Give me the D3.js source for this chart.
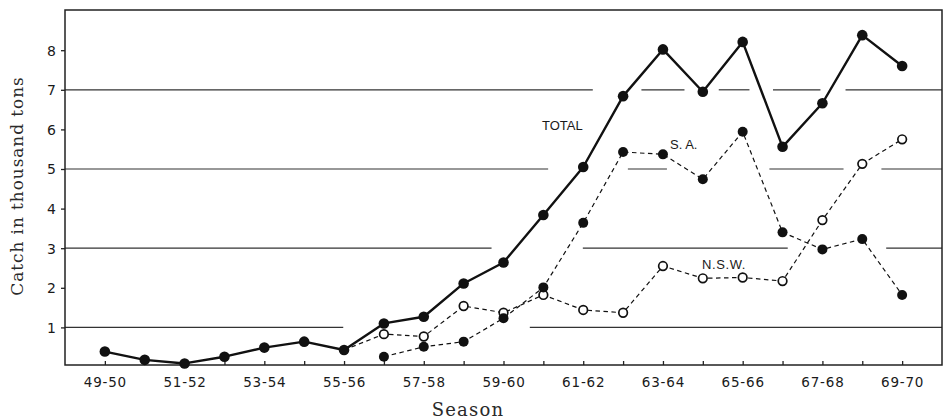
<!DOCTYPE html>
<html>
<head>
<meta charset="utf-8">
<script src="https://cdn.jsdelivr.net/npm/d3@7/dist/d3.min.js"></script>
<style>
  html, body { margin: 0; padding: 0; background: #fff; }
  svg { display: block; }
  .tick-label { font-family: "DejaVu Sans", sans-serif; font-size: 13.5px; fill: #1a1a1a; }
  .axis-title { font-family: "DejaVu Serif", "Liberation Serif", serif; fill: #2a2a2a; }
  .series-label { font-family: "Liberation Sans", Arial, sans-serif; font-size: 13px; fill: #1a1a1a; }
</style>
</head>
<body>
<svg id="chart" width="944" height="419"></svg>
<script>
// Seasons 1949-50 through 1969-70
const seasons = ["49-50","50-51","51-52","52-53","53-54","54-55","55-56","56-57","57-58","58-59",
                 "59-60","60-61","61-62","62-63","63-64","64-65","65-66","66-67","67-68","68-69","69-70"];
const labelledSeasons = ["49-50","51-52","53-54","55-56","57-58","59-60","61-62","63-64","65-66","67-68","69-70"];
const yTicks = [1, 2, 3, 4, 5, 6, 7, 8];

// Catch in thousand tons
const total = [0.39, 0.18, 0.09, 0.26, 0.49, 0.64, 0.43, 1.10, 1.27, 2.11,
               2.64, 3.84, 5.05, 6.84, 8.02, 6.95, 8.21, 5.56, 6.66, 8.38, 7.60];
// South Australia, from 1956-57
const sa = [null, null, null, null, null, null, null, 0.26, 0.51, 0.64,
            1.23, 2.01, 3.64, 5.43, 5.37, 4.74, 5.94, 3.40, 2.97, 3.23, 1.82];
// New South Wales, branching off the total at 1955-56
const nsw = [null, null, null, null, null, null, 0.43, 0.83, 0.77, 1.54,
             1.37, 1.82, 1.44, 1.37, 2.55, 2.24, 2.26, 2.17, 3.71, 5.13, 5.75];

// Horizontal rules at 1, 3, 5, 7, broken where curves and labels pass (in season-index units)
const gridLevels = [1, 3, 5, 7];
const gridSegments = {
  1: [[-1, 5.98], [10.66, 21]],
  3: [[-1, 9.70], [11.99, 17.13], [19.60, 21]],
  5: [[-1, 11.12], [13.12, 14.10], [16.67, 18.53], [19.48, 21]],
  7: [[-1, 12.24], [13.46, 14.54], [15.40, 16.17], [16.76, 17.95], [18.58, 21]]
};

const svg = d3.select("#chart");
const plotLeft = 65, plotRight = 942, plotTop = 10, plotBottom = 365;

const x = d3.scaleLinear().domain([-1, seasons.length]).range([plotLeft, plotRight]);
const y = d3.scaleLinear().domain([0, 9]).range([367, 10.6]);

// Gridlines
gridLevels.forEach(level => {
  gridSegments[level].forEach(seg => {
    svg.append("line")
      .attr("x1", x(seg[0])).attr("x2", x(seg[1]))
      .attr("y1", y(level)).attr("y2", y(level))
      .attr("stroke", "#333").attr("stroke-width", 1.2);
  });
});

// Frame
svg.append("rect")
  .attr("x", plotLeft).attr("y", plotTop)
  .attr("width", plotRight - plotLeft).attr("height", plotBottom - plotTop)
  .attr("fill", "none").attr("stroke", "#222").attr("stroke-width", 1.5);

// Y axis
const yAxis = d3.axisLeft(y).tickValues(yTicks).tickSize(4).tickFormat(d3.format("d"));
const gy = svg.append("g").attr("transform", `translate(${plotLeft},0)`).call(yAxis);
gy.select(".domain").remove();
gy.selectAll(".tick line").attr("stroke", "#222").attr("stroke-width", 1.3);
gy.selectAll(".tick text").attr("class", "tick-label").attr("x", -9).attr("dy", "0.35em")
  .style("font-size", "14px");

// X axis: ticks every season pointing inward, labels every other season
const xAxis = d3.axisBottom(x)
  .tickValues(d3.range(seasons.length))
  .tickSize(-4)
  .tickFormat(i => labelledSeasons.includes(seasons[i]) ? seasons[i] : "");
const gx = svg.append("g").attr("transform", `translate(0,${plotBottom})`).call(xAxis);
gx.select(".domain").remove();
gx.selectAll(".tick line").attr("stroke", "#222").attr("stroke-width", 1.3);
gx.selectAll(".tick text").attr("class", "tick-label").attr("y", 12).attr("dy", "0.71em")
  .style("letter-spacing", "0.8px");

// Axis titles
svg.append("text").attr("class", "axis-title")
  .attr("transform", "translate(23,186) rotate(-90)")
  .attr("text-anchor", "middle")
  .style("font-size", "17px").style("letter-spacing", "0.9px")
  .text("Catch in thousand tons");
svg.append("text").attr("class", "axis-title")
  .attr("x", 468).attr("y", 416)
  .attr("text-anchor", "middle")
  .style("font-size", "18px").style("letter-spacing", "1.2px")
  .text("Season");

const line = d3.line()
  .defined(d => d != null)
  .x((d, i) => x(i))
  .y(d => y(d));
const withIndex = arr => arr.map((v, i) => ({ v, i })).filter(d => d.v != null);

// N.S.W. (dashed, open circles)
svg.append("path").datum(nsw)
  .attr("d", line).attr("fill", "none")
  .attr("stroke", "#111").attr("stroke-width", 1.2).attr("stroke-dasharray", "4.5,3.5");
// S.A. (dashed, filled circles)
svg.append("path").datum(sa)
  .attr("d", line).attr("fill", "none")
  .attr("stroke", "#111").attr("stroke-width", 1.2).attr("stroke-dasharray", "4.5,3.5");
// Total (solid)
svg.append("path").datum(total)
  .attr("d", line).attr("fill", "none")
  .attr("stroke", "#111").attr("stroke-width", 2.4).attr("stroke-linejoin", "round");

svg.append("g").selectAll("circle").data(withIndex(nsw).filter(d => d.i > 6)).join("circle")
  .attr("cx", d => x(d.i)).attr("cy", d => y(d.v)).attr("r", 4.3)
  .attr("fill", "#fff").attr("stroke", "#111").attr("stroke-width", 1.7);
svg.append("g").selectAll("circle").data(withIndex(sa)).join("circle")
  .attr("cx", d => x(d.i)).attr("cy", d => y(d.v)).attr("r", 5)
  .attr("fill", "#111");
svg.append("g").selectAll("circle").data(withIndex(total)).join("circle")
  .attr("cx", d => x(d.i)).attr("cy", d => y(d.v)).attr("r", 5.3)
  .attr("fill", "#111");

// Series labels
svg.append("text").attr("class", "series-label").attr("x", 542).attr("y", 130).text("TOTAL");
svg.append("text").attr("class", "series-label").attr("x", 670).attr("y", 149).text("S. A.");
svg.append("text").attr("class", "series-label").attr("x", 702).attr("y", 269).style("letter-spacing", "0.6px").text("N.S.W.");
</script>
</body>
</html>
